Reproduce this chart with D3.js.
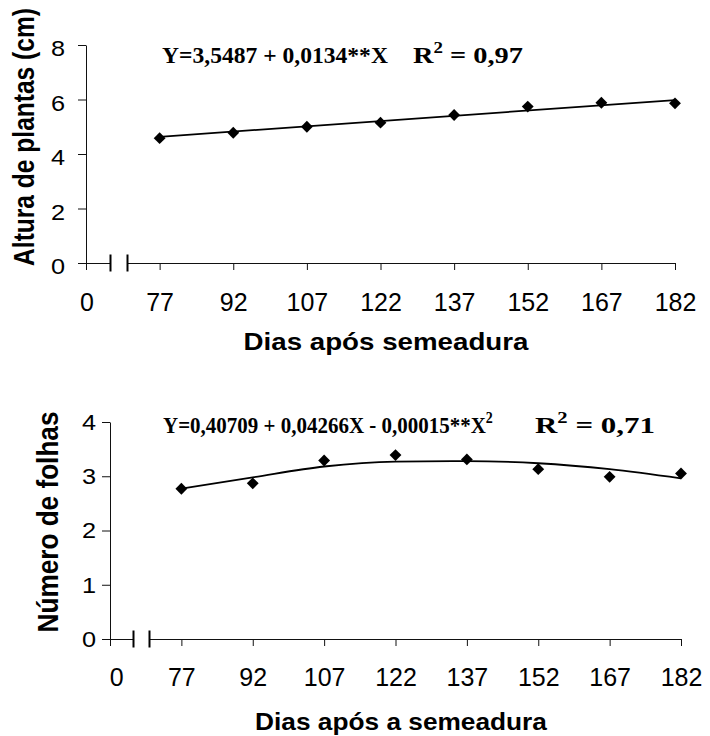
<!DOCTYPE html>
<html>
<head>
<meta charset="utf-8">
<script src="https://cdn.jsdelivr.net/npm/d3@7"></script>
<style>
  body { margin: 0; background: #fff; }
  svg { display: block; }
</style>
</head>
<body>
<svg id="chart" width="710" height="736"></svg>
<script>
// data
var days = [77, 92, 107, 122, 137, 152, 167, 182];
var altura = [4.58, 4.78, 5.00, 5.15, 5.43, 5.74, 5.88, 5.86];
var alturaFitDays = [77, 182];
var alturaFit = [4.63, 5.98];
var folhas = [2.77, 2.87, 3.29, 3.39, 3.31, 3.13, 2.99, 3.05];
var folhasFit = [2.77, 2.98, 3.18, 3.27, 3.28, 3.24, 3.13, 2.96];
var alturaTicks = [0, 2, 4, 6, 8];
var folhasTicks = [0, 1, 2, 3, 4];

var sans = "Arial, 'Liberation Sans', sans-serif",
    serif = "'Times New Roman', 'Liberation Serif', serif";

var svg = d3.select("#chart");

// squeeze/stretch a text horizontally (in its own frame) to a given width
function stretchTo(t, x, y, w, rot) {
  var n = t.node().getComputedTextLength();
  t.attr("transform", "translate(" + x + "," + y + ")" + (rot ? " rotate(-90)" : "") +
    " scale(" + (w / n) + (rot ? "," + rot : ",1") + ")");
}

function drawPanel(p) {
  var x = d3.scaleLinear().domain([62, 182]).range([p.left, p.right]);
  var y = d3.scaleLinear().domain([0, p.yMax]).range([p.bottom, p.top]);
  var g = svg.append("g");

  // y axis
  var ya = g.append("g")
    .attr("transform", "translate(" + p.left + ",0)")
    .call(d3.axisLeft(y).tickValues(p.yTicks).tickSize(8).tickSizeOuter(0)
      .tickFormat(function(d) { return d; }));
  ya.select(".domain").attr("stroke", "#111");
  ya.selectAll(".tick line").attr("stroke", "#111");
  ya.selectAll(".tick text")
    .attr("font-family", sans).attr("font-size", 22).attr("fill", "#000")
    .attr("x", -(8 + p.yPad) / 1.15)
    .attr("transform", "scale(1.15,1)")
    .attr("dy", p.yDy);

  // x axis, broken between 0 and 77
  var xa = g.append("g")
    .attr("transform", "translate(0," + p.bottom + ")")
    .call(d3.axisBottom(x).tickValues([62].concat(days)).tickSize(7)
      .tickFormat(function(d) { return d == 62 ? "" : d; }).tickPadding(p.xPad));
  xa.select(".domain").remove();
  xa.selectAll(".tick line").attr("stroke", "#111");
  xa.selectAll(".tick text")
    .attr("font-family", sans).attr("font-size", 25).attr("fill", "#000");

  var y0 = Math.round(p.bottom) + 0.5;
  var brk = [66.8, 70.3];
  g.append("line").attr("x1", x(62)).attr("x2", Math.round(x(brk[0])) + 0.5)
    .attr("y1", y0).attr("y2", y0).attr("stroke", "#111");
  g.append("line").attr("x1", Math.round(x(brk[1])) + 0.5).attr("x2", x(182))
    .attr("y1", y0).attr("y2", y0).attr("stroke", "#111");
  g.selectAll(".brk").data(brk).enter().append("line")
    .attr("x1", function(d) { return Math.round(x(d)) + 0.5; })
    .attr("x2", function(d) { return Math.round(x(d)) + 0.5; })
    .attr("y1", y0 - 9).attr("y2", y0 + 8)
    .attr("stroke", "#000").attr("stroke-width", 2);

  g.append("text")
    .attr("x", x(p.zeroAt)).attr("y", p.bottom + 7 + p.xPad)
    .attr("dy", "0.71em").attr("text-anchor", "middle")
    .attr("font-family", sans).attr("font-size", 25)
    .text("0");

  // fitted curve
  var line = d3.line()
    .x(function(d) { return x(d[0]); })
    .y(function(d) { return y(d[1]); })
    .curve(d3.curveMonotoneX);
  g.append("path")
    .datum(d3.zip(p.fitDays, p.fit))
    .attr("d", line)
    .attr("fill", "none").attr("stroke", "#000").attr("stroke-width", 1.8);

  // observed points
  g.selectAll(".pt").data(d3.zip(days, p.values)).enter().append("path")
    .attr("d", d3.symbol(d3.symbolSquare, 70))
    .attr("transform", function(d) { return "translate(" + x(d[0]) + "," + y(d[1]) + ") rotate(45)"; })
    .attr("fill", "#000");

  // equation + R2
  var eq = g.append("text")
    .attr("font-family", serif).attr("font-size", 24).attr("font-weight", "bold");
  eq.append("tspan").text(p.eq);
  if (p.eqSup) eq.append("tspan").attr("font-size", 16).attr("dy", -10).text("2");
  stretchTo(eq, p.eqX, p.eqY, p.eqW);

  var r2 = g.append("text")
    .attr("font-family", serif).attr("font-size", 24).attr("font-weight", "bold");
  r2.append("tspan").text("R");
  r2.append("tspan").attr("font-size", 16).attr("dy", -10).text("2");
  r2.append("tspan").attr("dy", 10).text(" = " + p.r2);
  stretchTo(r2, p.r2X, p.eqY, p.r2W);

  // axis titles
  var yt = g.append("text")
    .attr("text-anchor", "middle")
    .attr("font-family", sans).attr("font-size", 29).attr("font-weight", "bold")
    .text(p.yTitle);
  stretchTo(yt, p.yTitleX, p.yTitleY, p.yTitleW, 1);

  var xt = g.append("text")
    .attr("text-anchor", "middle")
    .attr("font-family", sans).attr("font-size", 23).attr("font-weight", "bold")
    .text(p.xTitle);
  stretchTo(xt, p.xTitleX, p.xTitleY, p.xTitleW);
}

drawPanel({
  left: 86, right: 675, top: 45, bottom: 263,
  yMax: 8, yTicks: alturaTicks, yPad: 13, yDy: "0.48em", xPad: 23, zeroAt: 62.2,
  values: altura, fitDays: alturaFitDays, fit: alturaFit,
  eq: "Y=3,5487 + 0,0134**X", eqSup: false,
  eqX: 162, eqY: 63, eqW: 226, r2X: 413, r2W: 110, r2: "0,97",
  yTitle: "Altura de plantas (cm)", yTitleX: 34, yTitleY: 137, yTitleW: 258,
  xTitle: "Dias após semeadura", xTitleX: 386, xTitleY: 350, xTitleW: 285
});

drawPanel({
  left: 110, right: 681, top: 422, bottom: 639,
  yMax: 4, yTicks: folhasTicks, yPad: 6, yDy: "0.34em", xPad: 22, zeroAt: 63.4,
  values: folhas, fitDays: days, fit: folhasFit,
  eq: "Y=0,40709 + 0,04266X - 0,00015**X", eqSup: true,
  eqX: 163, eqY: 433, eqW: 330, r2X: 535, r2W: 120, r2: "0,71",
  yTitle: "Número de folhas", yTitleX: 58, yTitleY: 522, yTitleW: 221,
  xTitle: "Dias após a semeadura", xTitleX: 401, xTitleY: 730, xTitleW: 292
});
</script>
</body>
</html>
